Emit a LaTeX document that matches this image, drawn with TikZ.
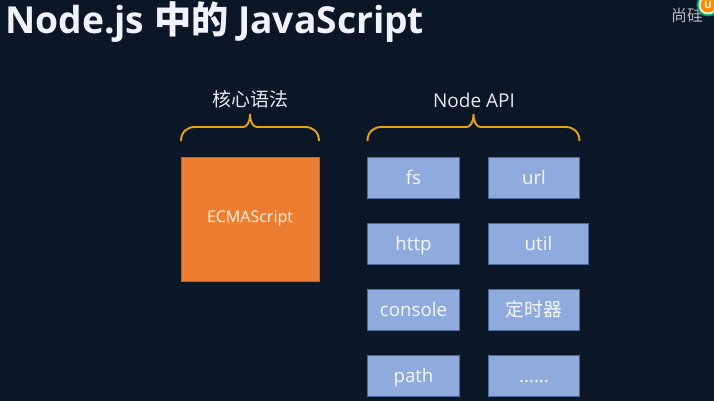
\documentclass[tikz,border=0pt]{standalone}
\usepackage{fontspec}
\setmainfont{Open Sans}
\newfontfamily\cjk{Noto Sans CJK SC}
\usetikzlibrary{positioning,calc}
\definecolor{slidebg}{HTML}{0B1626}
\definecolor{coreorange}{HTML}{ED7D31}
\definecolor{apiblue}{HTML}{8FAADC}
\definecolor{apiedge}{HTML}{4A6A9C}
\definecolor{bracegold}{HTML}{E5A50F}
\definecolor{labelgrey}{HTML}{E6EAF0}
% curly brace between two coordinates, tip pointing up
\newcommand{\bracket}[2]{%
  \draw[curly] (#1) .. controls +(0,-9) and +(-8,0) .. ($(#1)+(14,-14)$)
    -- ($(#1)!.5!(#2)+(-7,-14)$) .. controls +(4,0) and +(0,8) .. ($(#1)!.5!(#2)+(0,-27)$)
    .. controls +(0,8) and +(-4,0) .. ($(#1)!.5!(#2)+(7,-14)$)
    -- ($(#2)+(-14,-14)$) .. controls +(8,0) and +(0,-9) .. (#2);}

\begin{document}
\begin{tikzpicture}[
  x=1pt, y=-1pt,
  api/.style={rectangle, draw=apiedge, fill=apiblue, line width=0.7pt, inner sep=0pt, outer sep=0pt,
    minimum width=92pt, minimum height=41pt, text height=15pt, text depth=2pt,
    text=white!92!apiblue, font=\fontsize{18.7}{20}\selectfont},
  core/.style={rectangle, draw=coreorange!80!black, fill=coreorange, line width=0.6pt, inner sep=0pt, outer sep=0pt,
    minimum width=138pt, minimum height=124pt, text=white!92!coreorange, font=\fontsize{16}{18}\selectfont},
  heading/.style={text=labelgrey, inner sep=0pt, font=\fontsize{19}{20}\selectfont},
  curly/.style={draw=bracegold, line width=1.9pt}
]
  \useasboundingbox (0,0) rectangle (714,401);
  \clip (0,0) rectangle (714,401);
  \fill[slidebg] (0,0) rectangle (714,401);

  % Title
  \node[anchor=west, inner sep=0pt, text=white!95!blue, font=\fontsize{37.2}{40}\selectfont\bfseries] (title) at (5,22) {Node.js {\cjk 中的} JavaScript};

  % Core box
  \node[core] (ecma) at (250,219) {ECMAScript};

  % API boxes
  \node[api] (fs) at (413.5,177.5) {fs};
  \node[api, right=29pt of fs, minimum width=91pt] (url) {url};
  \node[api, below=25pt of fs] (http) {http};
  \node[api, below=25pt of url, minimum width=100pt, xshift=4.5pt] (util) {util};
  \node[api, below=25pt of http] (console) {console};
  \node[api, right=29pt of console, minimum width=91pt] (timer) {\cjk 定时器};
  \node[api, below=25pt of console] (path) {path};
  \node[api, right=29pt of path, minimum width=91pt] (more) {......};

  % Braces
  \coordinate (coreleft) at ([yshift=16pt]ecma.north west);
  \coordinate (coreright) at ([yshift=16pt]ecma.north east);
  \coordinate (apileft) at ([yshift=16pt]fs.north west);
  \coordinate (apiright) at ([yshift=16pt]url.north east);
  \bracket{coreleft}{coreright}
  \bracket{apileft}{apiright}

  % Headings
  \node[heading] (corelabel) at (250,99.5) {\cjk 核心语法};
  \node[heading] (apilabel) at (474,100) {Node API};

  % Watermark
  \node[anchor=west, inner sep=0pt, text=white!70!slidebg, font=\cjk\fontsize{16}{18}\selectfont] (brand) at (671,15) {尚硅};
  \node[circle, fill=teal!70!green, minimum size=23pt, inner sep=0pt] (badge) at (708,5) {};
  \node[circle, fill=white!90!teal, minimum size=19pt, inner sep=0pt] (badgering) at (badge) {};
  \node[circle, fill=orange!90!yellow, minimum size=15pt, inner sep=0pt, text=white, font=\bfseries\fontsize{10}{10}\selectfont] (badgecore) at (badge) {U};
\end{tikzpicture}
\end{document}
